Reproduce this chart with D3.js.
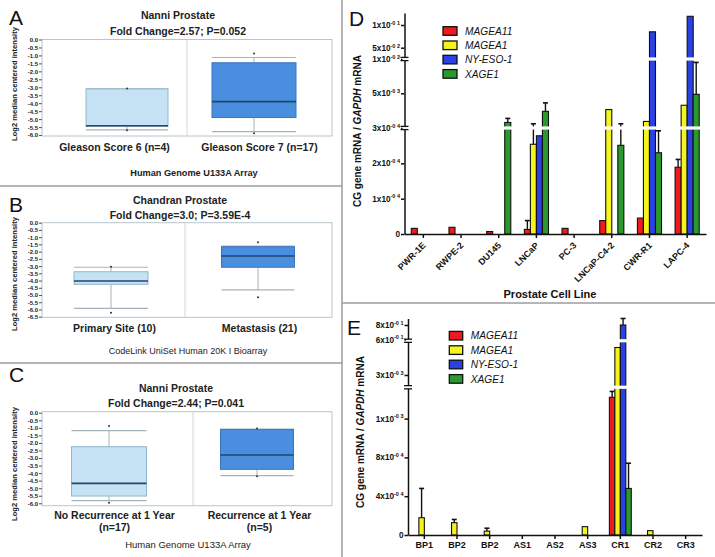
<!DOCTYPE html>
<html>
<head>
<meta charset="utf-8">
<script src="https://cdn.jsdelivr.net/npm/d3@7"></script>
<style>
  body { margin: 0; background: #fff; }
  svg { display: block; }
</style>
</head>
<body>
<div id="chart"></div>
<script>
// ---------- data: box plots (A, B, C) ----------
// each box: [lower whisker, q1, median, q3, upper whisker]
const titleA = ["Nanni Prostate", "Fold Change=2.57; P=0.052"];
const catsA = [["Gleason Score 6 (n=4)"], ["Gleason Score 7 (n=17)"]];
const statsA = [[-5.67, -5.45, -5.42, -3.1, -3.1], [-5.78, -4.9, -3.9, -1.46, -1.13]];
const pointsA = [[-3.08, -5.7], [-0.88, -5.88]];
const captionA = "Human Genome U133A Array";

const titleB = ["Chandran Prostate", "Fold Change=3.0; P=3.59E-4"];
const catsB = [["Primary Site (10)"], ["Metastasis (21)"]];
const statsB = [[-5.92, -4.26, -4.03, -3.39, -3.08], [-4.65, -3.08, -2.3, -1.66, -1.62]];
const pointsB = [[-3.05, -6.22], [-1.36, -5.16]];
const captionB = "CodeLink UniSet Human 20K I Bioarray";

const titleC = ["Nanni Prostate", "Fold Change=2.44; P=0.041"];
const catsC = [["No Recurrence at 1 Year", "(n=17)"], ["Recurrence at 1 Year", "(n=5)"]];
const statsC = [[-5.83, -5.52, -4.68, -2.25, -1.19], [-4.17, -3.75, -2.8, -1.1, -1.1]];
const pointsC = [[-0.88, -5.96], [-1.05, -4.2]];
const captionC = "Human Genome U133A Array";

const ticksA = d3.range(0, -6.01, -0.5);
const ticksB = d3.range(0, -6.51, -0.5);
const ticksC = d3.range(0, -6.01, -0.5);

// ---------- data: bar charts (D, E) ----------
const genes = ["MAGEA11", "MAGEA1", "NY-ESO-1", "XAGE1"];
const geneColors = ["#ee1b1e", "#f6f41f", "#2a41e4", "#2a9a2c"];

const cellLines = ["PWR-1E", "RWPE-2", "DU145", "LNCaP", "PC-3", "LNCaP-C4-2", "CWR-R1", "LAPC-4"];
const dMAGEA11 = [1.6e-5, 1.9e-5, 0.7e-5, 1.3e-5, 1.6e-5, 3.8e-5, 4.5e-5, 1.89e-4];
const dMAGEA1 = [0, 0, 0, 2.54e-4, 0, 2.8e-3, 1.19e-3, 3.38e-3];
const dNYESO1 = [0, 0, 0, 2.78e-4, 0, 0, 0.085, 0.1225];
const dXAGE1 = [0, 0, 1.05e-3, 2.56e-3, 0, 2.51e-4, 2.3e-4, 4.86e-3];
const dErrMAGEA11 = [0, 0, 0, 3.8e-5, 0, 0, 0, 2.11e-4];
const dErrMAGEA1 = [0, 0, 0, 8.7e-4, 0, 0, 0, 0];
const dErrNYESO1 = [0, 0, 0, 0, 0, 0, 0, 0];
const dErrXAGE1 = [0, 0, 1.6e-3, 3.7e-3, 0, 8.7e-4, 2.92e-4, 9.5e-3];
const dTickVals = [0, 1e-4, 2e-4, 3e-4, 5e-3, 1e-2, 5e-2, 1e-1];
const dTickText = ["0", "1x10^-0 4", "2x10^-0 4", "3x10^-0 4", "5x10^-0 3", "1x10^-0 2", "5x10^-0 2", "1x10^-0 1"];

const patients = ["BP1", "BP2", "BP2", "AS1", "AS2", "AS3", "CR1", "CR2", "CR3"];
const eMAGEA11 = [0, 0, 0, 0, 0, 0, 1.42e-3, 0, 0];
const eMAGEA1 = [1.78e-4, 1.27e-4, 0.4e-4, 0, 0, 0.86e-4, 5.5e-3, 0.45e-4, 0];
const eNYESO1 = [0, 0, 0, 0, 0, 0, 0.8, 0, 0];
const eXAGE1 = [0, 0, 0, 0, 0, 0, 4.8e-4, 0, 0];
const eErrMAGEA11 = [0, 0, 0, 0, 0, 0, 1.48e-3, 0, 0];
const eErrMAGEA1 = [4.8e-4, 1.6e-4, 0.7e-4, 0, 0, 0, 0, 0, 0];
const eErrNYESO1 = [0, 0, 0, 0, 0, 0, 0.89, 0, 0];
const eErrXAGE1 = [0, 0, 0, 0, 0, 0, 7.4e-4, 0, 0];
const eTickVals = [0, 4e-4, 8e-4, 1.2e-3, 3e-3, 0.6, 0.8];
const eTickText = ["0", "4x10^-0 4", "8x10^-0 4", "1x10^-0 3", "3x10^-0 3", "6x10^-0 1", "8x10^-0 1"];

// ---------- svg ----------
const width = 715, height = 557;
const font = "'Liberation Sans', Arial, Helvetica, sans-serif";

const svg = d3.select("#chart")
  .append("svg")
  .attr("width", width)
  .attr("height", height)
  .style("font-family", font);

svg.append("rect").attr("width", width).attr("height", height).attr("fill", "#fff");

// panel separators
const sepColor = "#9c9c9c";
[[342, 0, 342, 557], [0, 186, 342, 186], [0, 363, 342, 363], [342, 303, 715, 303]].forEach(l => {
  svg.append("line")
    .attr("x1", l[0]).attr("y1", l[1]).attr("x2", l[2]).attr("y2", l[3])
    .attr("stroke", sepColor).attr("stroke-width", 1.5);
});

function letter(t, x, y) {
  svg.append("text").attr("x", x).attr("y", y)
    .attr("font-size", 21).attr("fill", "#111").text(t);
}

// ---------- box plot panels ----------
const boxFills = ["#c4e2f3", "#4a8fdf"];
const boxStrokes = ["#93b7cc", "#3a74bd"];

function boxPanel(o) {
  const g = svg.append("g");
  const y = d3.scaleLinear().domain(o.domain).range([o.top, o.bottom]);
  const xl = d3.scaleBand().domain(d3.range(o.cats.length)).range([o.left, o.right]);

  letter(o.letter, 9, o.letterY);

  o.title.forEach((t, i) => {
    g.append("text").attr("x", o.titleX).attr("y", o.titleY[i])
      .attr("text-anchor", "middle").attr("font-size", 10.5).attr("font-weight", "bold")
      .attr("fill", "#222").text(t);
  });

  g.append("rect")
    .attr("x", o.left).attr("y", o.top)
    .attr("width", o.right - o.left).attr("height", o.bottom - o.top)
    .attr("fill", "none").attr("stroke", "#b7c6cd");
  g.append("line")
    .attr("x1", o.divider).attr("x2", o.divider).attr("y1", o.top).attr("y2", o.bottom)
    .attr("stroke", "#cfd8dc");

  const ax = g.append("g")
    .attr("transform", `translate(${o.left},0)`)
    .call(d3.axisLeft(y).tickValues(o.ticks).tickSize(3).tickPadding(1)
      .tickFormat(d => Math.abs(d) < 1e-9 ? "0.0" : d.toFixed(1)));
  ax.select(".domain").remove();
  ax.selectAll("line").attr("stroke", "#555");
  ax.selectAll("text").attr("font-size", 6).attr("font-weight", "bold")
    .attr("font-family", font).attr("fill", "#222");

  g.append("text")
    .attr("transform", `translate(14,${o.ylabelY}) rotate(-90)`)
    .attr("text-anchor", "middle").attr("dy", "0.35em")
    .attr("font-size", 7.6).attr("font-weight", "bold").attr("fill", "#222")
    .text("Log2 median centered intensity");

  o.stats.forEach((s, i) => {
    const cx = o.boxX[i], w = o.boxW[i];
    const [lo, q1, med, q3, hi] = s;
    g.append("line").attr("x1", cx).attr("x2", cx).attr("y1", y(lo)).attr("y2", y(q1))
      .attr("stroke", "#a6b3ba");
    g.append("line").attr("x1", cx).attr("x2", cx).attr("y1", y(q3)).attr("y2", y(hi))
      .attr("stroke", "#a6b3ba");
    [lo, hi].forEach(v => {
      g.append("line").attr("x1", cx - w / 2).attr("x2", cx + w / 2)
        .attr("y1", y(v)).attr("y2", y(v)).attr("stroke", "#a6b3ba").attr("stroke-width", 1.2);
    });
    g.append("rect")
      .attr("x", cx - w / 2).attr("y", y(q3))
      .attr("width", w).attr("height", y(q1) - y(q3))
      .attr("fill", boxFills[i]).attr("stroke", boxStrokes[i]);
    g.append("line").attr("x1", cx - w / 2).attr("x2", cx + w / 2)
      .attr("y1", y(med)).attr("y2", y(med)).attr("stroke", "#22466b").attr("stroke-width", 1.6);
    o.points[i].forEach(v => {
      g.append("circle").attr("cx", cx).attr("cy", y(v)).attr("r", 1)
        .attr("fill", "#333");
    });
  });

  o.cats.forEach((lines, i) => {
    lines.forEach((t, j) => {
      g.append("text")
        .attr("x", xl(i) + xl.bandwidth() / 2).attr("y", o.catY + j * 12)
        .attr("text-anchor", "middle").attr("font-size", 10.5).attr("font-weight", "bold")
        .attr("fill", "#222").text(t);
    });
  });

  g.append("text").attr("x", o.capX).attr("y", o.capY)
    .attr("text-anchor", "middle").attr("font-size", o.capSize)
    .attr("font-weight", o.capBold ? "bold" : "normal").attr("fill", "#222")
    .text(o.caption);
}

boxPanel({
  letter: "A", letterY: 25,
  title: titleA, titleX: 178, titleY: [19, 35],
  cats: catsA, catY: 151, stats: statsA, points: pointsA,
  caption: captionA, capX: 194, capY: 175.5, capSize: 9.2, capBold: true,
  left: 42, right: 332, top: 39.5, bottom: 136, divider: 187,
  domain: [0, -6.06], ticks: ticksA, ylabelY: 84,
  boxX: [127, 254], boxW: [82, 84]
});

boxPanel({
  letter: "B", letterY: 212,
  title: titleB, titleX: 180, titleY: [204, 219],
  cats: catsB, catY: 332, stats: statsB, points: pointsB,
  caption: captionB, capX: 188, capY: 353.5, capSize: 9, capBold: false,
  left: 42, right: 332, top: 222.7, bottom: 317.3, divider: 185,
  domain: [0, -6.54], ticks: ticksB, ylabelY: 274,
  boxX: [111, 258], boxW: [74, 73]
});

boxPanel({
  letter: "C", letterY: 382,
  title: titleC, titleX: 176, titleY: [392, 407],
  cats: catsC, catY: 519, stats: statsC, points: pointsC,
  caption: captionC, capX: 188, capY: 547.5, capSize: 9.5, capBold: false,
  left: 42, right: 332, top: 411.7, bottom: 505.7, divider: 193,
  domain: [0.07, -6.16], ticks: ticksC, ylabelY: 464,
  boxX: [109, 257], boxW: [75, 73]
});

// ---------- bar chart panels ----------
function expLabel(sel, label) {
  const parts = label.split("^");
  sel.append("tspan").text(parts[0]);
  if (parts[1]) sel.append("tspan").attr("font-size", 5.5).attr("dy", -3.2).text(parts[1]);
}

function barPanel(o) {
  const g = svg.append("g");
  const x0 = d3.scaleBand().domain(d3.range(o.cats.length)).range([o.left, o.right]);
  const bw = x0.bandwidth(), gw = bw * o.groupFrac;
  const x1 = d3.scaleBand().domain(genes).range([(bw - gw) / 2, (bw + gw) / 2]);
  const y = d3.scaleLinear().domain(o.yDomain).range(o.yRange);
  const base = y(0);

  letter(o.letter, o.letterX, o.letterY);

  // bars
  genes.forEach((gene, k) => {
    o.values[k].forEach((v, i) => {
      if (v <= 0) return;
      g.append("rect")
        .attr("x", x0(i) + x1(gene)).attr("y", y(v))
        .attr("width", x1.bandwidth()).attr("height", base - y(v))
        .attr("fill", geneColors[k]).attr("stroke", "#111").attr("stroke-width", 1.1);
    });
  });
  // error bars
  genes.forEach((gene, k) => {
    o.errors[k].forEach((e, i) => {
      if (e <= 0) return;
      const cx = x0(i) + x1(gene) + x1.bandwidth() / 2;
      g.append("line").attr("x1", cx).attr("x2", cx)
        .attr("y1", y(o.values[k][i])).attr("y2", y(e))
        .attr("stroke", "#111").attr("stroke-width", 1.4);
      g.append("line").attr("x1", cx - 2.5).attr("x2", cx + 2.5)
        .attr("y1", y(e)).attr("y2", y(e))
        .attr("stroke", "#111").attr("stroke-width", 1.6);
    });
  });

  // axis breaks cut through bars
  o.breaks.forEach(b => {
    g.append("rect").attr("x", o.left - 6).attr("y", y(b) - 1.6)
      .attr("width", o.right - o.left + 6).attr("height", 3.2).attr("fill", "#fff");
  });

  // y axis
  const ya = g.append("g").attr("transform", `translate(${o.left},0)`)
    .call(d3.axisLeft(y).tickValues(o.tickVals).tickSize(3.5).tickSizeOuter(0).tickFormat(""));
  ya.selectAll("path, line").attr("stroke", "#111").attr("stroke-width", 1.5);
  o.breaks.forEach(b => {
    g.append("rect").attr("x", o.left - 2).attr("y", y(b) - 1.6)
      .attr("width", 4).attr("height", 3.2).attr("fill", "#fff");
    [-1.6, 1.6].forEach(dy => {
      g.append("line").attr("x1", o.left - 4).attr("x2", o.left + 4)
        .attr("y1", y(b) + dy).attr("y2", y(b) + dy)
        .attr("stroke", "#111").attr("stroke-width", 1.3);
    });
  });
  o.tickVals.forEach((v, i) => {
    const t = g.append("text").attr("x", o.left - 4.5).attr("y", y(v) + 3)
      .attr("text-anchor", "end").attr("font-size", 8.2).attr("font-weight", "bold")
      .attr("fill", "#111");
    expLabel(t, o.tickText[i]);
  });

  // x axis
  const xa = g.append("g").attr("transform", `translate(0,${base})`)
    .call(d3.axisBottom(x0).tickSize(4).tickSizeOuter(0).tickFormat(""));
  xa.selectAll("path, line").attr("stroke", "#111").attr("stroke-width", 1.5);

  if (o.rotate) {
    o.cats.forEach((c, i) => {
      g.append("text")
        .attr("transform", `translate(${x0(i) + bw / 2 + 3},${base + 12}) rotate(-45)`)
        .attr("text-anchor", "end").attr("font-size", 9).attr("font-weight", "bold")
        .attr("fill", "#111").text(c);
    });
  } else {
    o.cats.forEach((c, i) => {
      g.append("text")
        .attr("x", x0(i) + bw / 2).attr("y", base + 13)
        .attr("text-anchor", "middle").attr("font-size", 9).attr("font-weight", "bold")
        .attr("fill", "#111").text(c);
    });
  }
  if (o.xTitle) {
    g.append("text").attr("x", o.xTitleX).attr("y", o.xTitleY)
      .attr("text-anchor", "middle").attr("font-size", 11).attr("font-weight", "bold")
      .attr("fill", "#111").text(o.xTitle);
  }

  // y title
  const yt = g.append("text")
    .attr("transform", `translate(${o.yTitleX},${o.yTitleY}) rotate(-90)`)
    .attr("text-anchor", "middle").attr("dy", "0.35em")
    .attr("font-size", 10).attr("font-weight", "bold").attr("fill", "#111");
  yt.append("tspan").text("CG gene mRNA / ");
  yt.append("tspan").attr("font-style", "italic").text("GAPDH");
  yt.append("tspan").text(" mRNA");

  // legend
  genes.forEach((gene, k) => {
    const ly = o.legendY + k * o.legendStep;
    g.append("rect").attr("x", o.legendX).attr("y", ly - 4.3)
      .attr("width", o.legendW).attr("height", 8.6)
      .attr("fill", geneColors[k]).attr("stroke", "#111").attr("stroke-width", 1.3);
    g.append("text").attr("x", o.legendX + o.legendW + 8).attr("y", ly + 3.6)
      .attr("font-size", 10.2).attr("font-style", "italic").attr("fill", "#111").text(gene);
  });
}

barPanel({
  letter: "D", letterX: 349, letterY: 26,
  cats: cellLines, rotate: true,
  values: [dMAGEA11, dMAGEA1, dNYESO1, dXAGE1],
  errors: [dErrMAGEA11, dErrMAGEA1, dErrNYESO1, dErrXAGE1],
  left: 404.5, right: 706, groupFrac: 0.64,
  yDomain: [0, 3e-4, 5e-3, 1e-2, 5e-2, 1e-1, 0.131],
  yRange: [234, 128, 93.3, 59, 47.7, 25, 13],
  breaks: [3e-4, 1e-2],
  tickVals: dTickVals, tickText: dTickText,
  xTitle: "Prostate Cell Line", xTitleX: 550, xTitleY: 298,
  yTitleX: 357, yTitleY: 131,
  legendX: 443, legendW: 14, legendY: 31, legendStep: 14.3
});

barPanel({
  letter: "E", letterX: 347, letterY: 335,
  cats: patients, rotate: false,
  values: [eMAGEA11, eMAGEA1, eNYESO1, eXAGE1],
  errors: [eErrMAGEA11, eErrMAGEA1, eErrNYESO1, eErrXAGE1],
  left: 408, right: 702, groupFrac: 0.67,
  yDomain: [0, 1.5e-3, 2.1e-3, 3e-3, 6e-3, 0.6, 0.8, 0.89],
  yRange: [535, 389.5, 385, 375, 342, 339.5, 325, 318.5],
  breaks: [1.8e-3, 0.3],
  tickVals: eTickVals, tickText: eTickText,
  xTitle: null,
  yTitleX: 360, yTitleY: 432,
  legendX: 449.3, legendW: 13.4, legendY: 335.7, legendStep: 14.4
});
</script>
</body>
</html>
